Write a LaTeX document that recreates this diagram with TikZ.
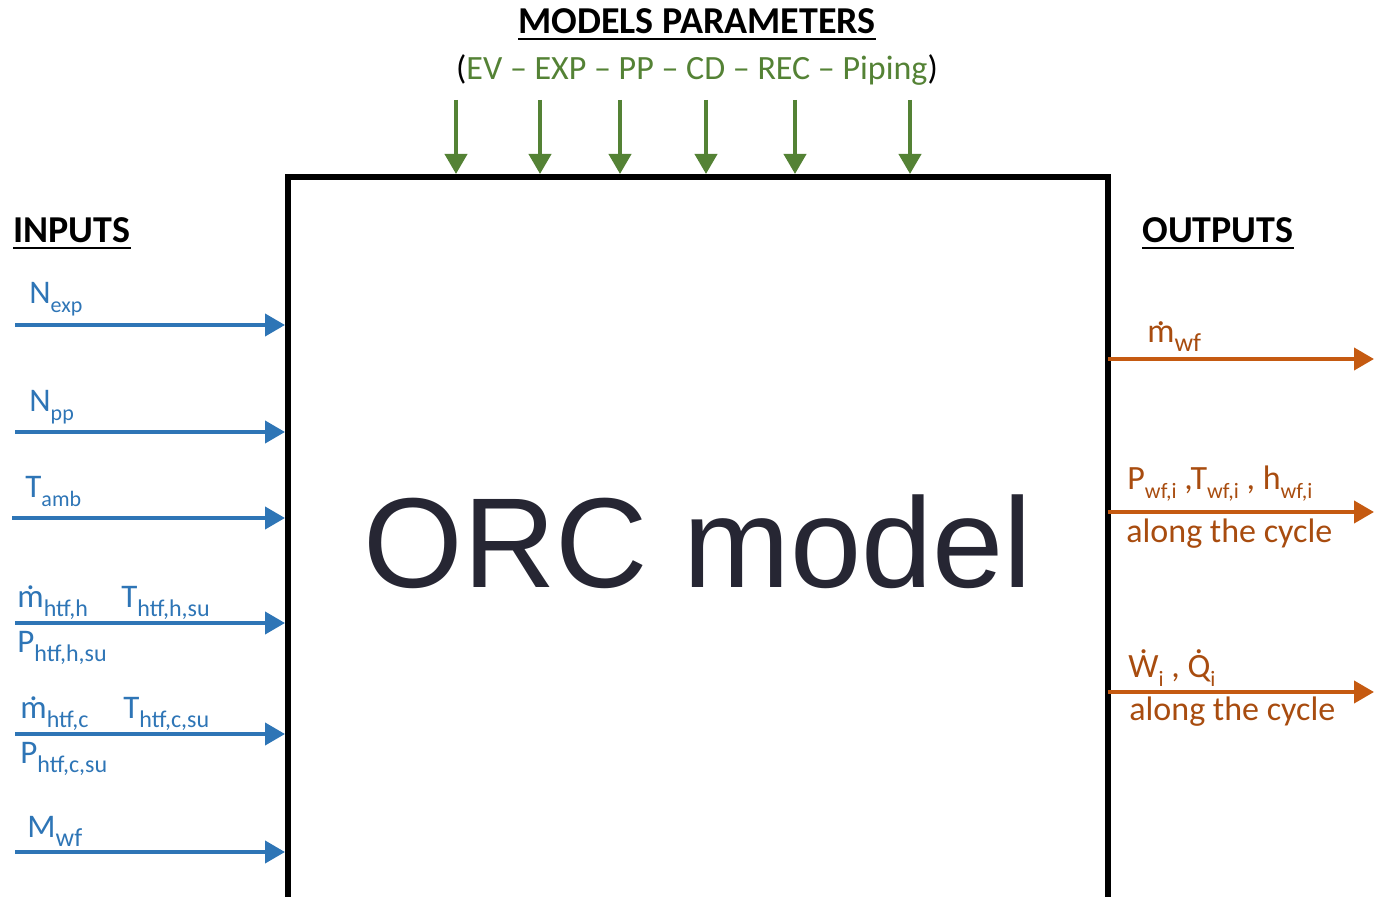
\documentclass[tikz,border=0pt]{standalone}
\usepackage{fontspec}
\setmainfont{Carlito}
\newfontfamily\arialfont{Liberation Sans}
\usetikzlibrary{arrows.meta}

\definecolor{inblue}{HTML}{2E75B6}
\definecolor{outorange}{HTML}{C55A11}
\definecolor{paramgreen}{HTML}{548235}
\definecolor{orcgray}{HTML}{262633}

\newcommand\lw[2][12]{\raisebox{-4.5pt}{\fontsize{#1}{#1}\selectfont #2}}
\newcommand\dotacc[1]{{\setbox0\hbox{#1}\rlap{\hbox to\wd0{\hss\raisebox{\dimexpr\ht0+0.04em\relax}{.}\hss}}\box0}}

\tikzset{
  inarrow/.style={draw=inblue, line width=2pt, -{Triangle[length=10pt,width=11pt]}, shorten >=1.5pt},
  outarrow/.style={draw=outorange, line width=2pt, -{Triangle[length=10pt,width=11pt]}},
  paramarrow/.style={draw=paramgreen, line width=2pt, -{Triangle[length=10pt,width=11pt]}, shorten >=1.5pt},
  inlbl/.style={text=inblue, font=\fontsize{16.5}{20}\selectfont, inner sep=0pt, anchor=base west},
  outlbl/.style={text=outorange!85!black, font=\fontsize{17}{20}\selectfont, inner sep=0pt, anchor=base west},
  heading/.style={font=\fontsize{19}{22}\selectfont\bfseries, inner sep=0pt},
  orctext/.style={text=orcgray, font=\fontsize{64}{70}\selectfont\arialfont, inner sep=0pt, anchor=base}
}

\begin{document}
\begin{tikzpicture}[x=0.5pt,y=-0.5pt]
\useasboundingbox (0,0) rectangle (1374,897);

\coordinate (boxtl) at (288,177);
\coordinate (boxtr) at (1108,177);
\draw[line width=3pt] (288,905) -- (boxtl) -- (boxtr) -- (1108,905);
\node[orctext] (orc) at (698,587) {ORC model};

\node[heading, anchor=base west] (inputs) at (13,243) {INPUTS};
\node[heading, anchor=base west] (outputs) at (1142,243) {OUTPUTS};
\node[heading, anchor=base] (params) at (697,34) {MODELS PARAMETERS};
\foreach \n in {inputs,outputs,params}
  \draw[line width=1.4pt] ([yshift=-2.5pt]\n.base west) -- ([yshift=-2.5pt]\n.base east);

\node[text=paramgreen, font=\fontsize{17}{20}\selectfont, inner sep=0pt, anchor=base] (parlist) at (697,80)
  {\textcolor{black}{(}EV – EXP – PP – CD – REC – Piping\textcolor{black}{)}};
\foreach \x in {456,540,620,706,795,910}
  \draw[paramarrow] (\x,100) -- (boxtl -| \x,0);

\foreach \xa/\y in {15/325,15/432,12/518,15/623,15/734,15/852}
  \draw[inarrow] (\xa,\y) -- (boxtl |- 0,\y);
\node[inlbl] (nexp) at (29,304) {N\lw[11]{exp}};
\node[inlbl] (npp) at (29,412) {N\lw[11]{pp}};
\node[inlbl] (tamb) at (25,497) {T\lw[11]{amb}};
\node[inlbl] (mhot) at (17,607) {\dotacc{m}\lw{htf,h}};
\node[inlbl] (thot) at (121,607) {T\lw{htf,h,su}};
\node[inlbl] (phot) at (17,652) {P\lw{htf,h,su}};
\node[inlbl] (mcold) at (20,718) {\dotacc{m}\lw{htf,c}};
\node[inlbl] (tcold) at (123,718) {T\lw{htf,c,su}};
\node[inlbl] (pcold) at (20,763) {P\lw{htf,c,su}};
\node[inlbl] (mwfin) at (27,837) {M\lw[13]{wf}};

\foreach \y in {359,512,692}
  \draw[outarrow] (boxtr |- 0,\y) -- (1374,\y);
\node[outlbl] (mwf) at (1147,343) {\dotacc{m}\lw[13]{wf}};
\node[outlbl] (states) at (1127,489) {P\lw[11]{wf,i} ,T\lw[11]{wf,i} , h\lw[11]{wf,i}};
\node[outlbl] (statesnote) at (1126,542) {along the cycle};
\node[outlbl] (powers) at (1128,677) {\dotacc{W}\lw[11]{i} , \dotacc{Q}\lw[11]{i}};
\node[outlbl] (powersnote) at (1129,720) {along the cycle};
\end{tikzpicture}
\end{document}
